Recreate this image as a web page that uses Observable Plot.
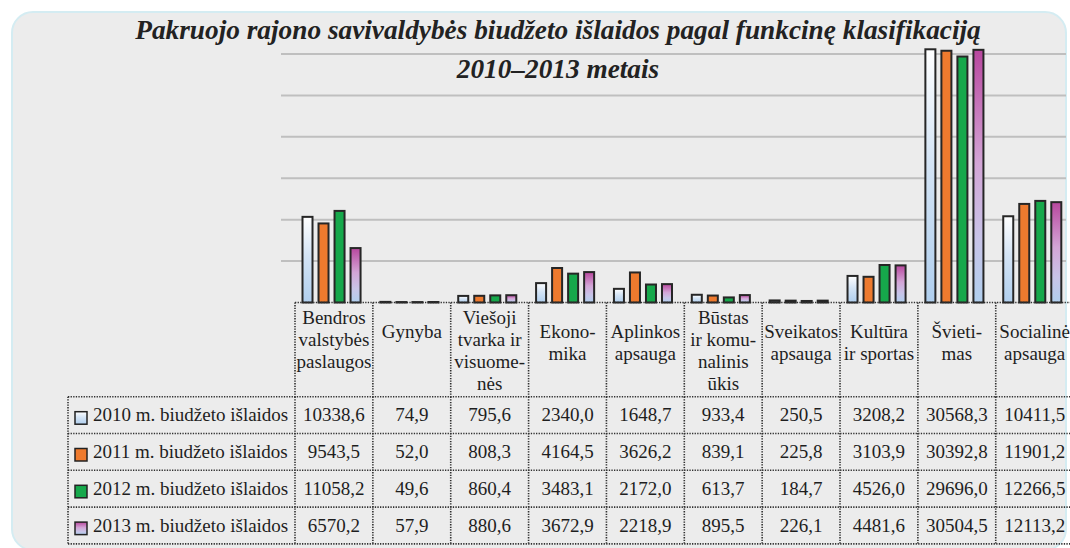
<!DOCTYPE html>
<html><head><meta charset="utf-8">
<script src="https://cdn.jsdelivr.net/npm/d3@7"></script>
<script src="https://cdn.jsdelivr.net/npm/@observablehq/plot@0.6"></script>
<style>
html,body{margin:0;padding:0;background:#fff;width:1070px;height:548px;overflow:hidden;}
#panel{position:absolute;left:11px;top:11px;width:1052px;height:536px;border:2px solid #d4ecf2;border-radius:22px;background:#ececec;}
#chart{position:absolute;left:0;top:0;width:1070px;height:548px;}
#title{position:absolute;left:58px;top:10.5px;width:1000px;text-align:center;font-family:"Liberation Serif","Times New Roman",serif;font-style:italic;font-weight:bold;font-size:27.3px;line-height:39px;color:#222;z-index:2;white-space:nowrap;}
#chart svg text{font-family:"Liberation Serif","Times New Roman",serif;}
</style></head><body>
<div id="panel"></div>
<div id="chart"></div>
<div id="title">Pakruojo rajono savivaldybės biudžeto išlaidos pagal funkcinę klasifikaciją<br>2010–2013 metais</div>
<script>
const categories = ["Bendros valstybės paslaugos", "Gynyba", "Viešoji tvarka ir visuomenės", "Ekonomika", "Aplinkos apsauga", "Būstas ir komunalinis ūkis", "Sveikatos apsauga", "Kultūra ir sportas", "Švietimas", "Socialinė apsauga"];
const headerLines = [
  ["Bendros", "valstybės", "paslaugos"],
  ["Gynyba"],
  ["Viešoji", "tvarka ir", "visuome-", "nės"],
  ["Ekono-", "mika"],
  ["Aplinkos", "apsauga"],
  ["Būstas", "ir komu-", "nalinis", "ūkis"],
  ["Sveikatos", "apsauga"],
  ["Kultūra", "ir sportas"],
  ["Švieti-", "mas"],
  ["Socialinė", "apsauga"]
];
const years = ["2010", "2011", "2012", "2013"];
const seriesLabels = ["2010 m. biudžeto išlaidos", "2011 m. biudžeto išlaidos", "2012 m. biudžeto išlaidos", "2013 m. biudžeto išlaidos"];
const values2010 = [10338.6, 74.9, 795.6, 2340.0, 1648.7, 933.4, 250.5, 3208.2, 30568.3, 10411.5];
const values2011 = [9543.5, 52.0, 808.3, 4164.5, 3626.2, 839.1, 225.8, 3103.9, 30392.8, 11901.2];
const values2012 = [11058.2, 49.6, 860.4, 3483.1, 2172.0, 613.7, 184.7, 4526.0, 29696.0, 12266.5];
const values2013 = [6570.2, 57.9, 880.6, 3672.9, 2218.9, 895.5, 226.1, 4481.6, 30504.5, 12113.2];
const gridTicks = [5000, 10000, 15000, 20000, 25000, 30000];

const series = [values2010, values2011, values2012, values2013];
const fillFor = {"2010": "url(#g2010)", "2011": "#ee7a2e", "2012": "#16a84b", "2013": "url(#g2013)"};
const data = years.flatMap((yr, i) => categories.map((c, j) => ({category: c, year: yr, value: series[i][j]})));

const plot = Plot.plot({
  width: 1070, height: 548,
  marginLeft: 281, marginRight: 4, marginTop: 54, marginBottom: 245.5,
  style: {background: "transparent", overflow: "visible", fontFamily: "'Liberation Serif', 'Times New Roman', serif"},
  fx: {domain: categories, range: [295, 1073.6], padding: 0, round: false, axis: null},
  x: {domain: years, insetLeft: 7.5, insetRight: 12.3, paddingInner: 0.375, paddingOuter: 0, round: false, axis: null},
  y: {domain: [0, 30000], axis: null},
  color: {type: "identity"},
  marks: [
    Plot.barY(data, {fx: "category", x: "year", y: "value", fill: d => fillFor[d.year], stroke: "#262626", strokeWidth: 2})
  ]
});
document.getElementById("chart").appendChild(plot);

const svg = d3.select(plot);
const defs = svg.insert("defs", ":first-child");
function grad(id, stops) {
  const lg = defs.append("linearGradient").attr("id", id).attr("x1", 0).attr("y1", 0).attr("x2", 0).attr("y2", 1);
  stops.forEach(([o, c]) => lg.append("stop").attr("offset", o).attr("stop-color", c));
}
grad("g2010", [[0, "#ffffff"], [0.45, "#d4e4f5"], [1, "#b0cfee"]]);
grad("g2013", [[0, "#b8479e"], [0.45, "#d3a5d6"], [0.75, "#c8c4e8"], [1, "#b0cfee"]]);

// horizontal gridlines from Plot's y scale, drawn beneath the bars
const yS = plot.scale("y");
const gridG = svg.insert("g", "defs + *").attr("stroke", "#bfbfbf").attr("stroke-width", 2);
gridTicks.forEach(t => {
  const yy = yS.apply(t);
  gridG.append("line").attr("x1", 281).attr("x2", 1066).attr("y1", yy).attr("y2", yy);
});

// data table below the chart, aligned on the fx scale
const fxS = plot.scale("fx");
const bw = fxS.bandwidth;
const colX = categories.map(c => fxS.apply(c));
const tableRight = colX[colX.length - 1] + bw;
const headTop = yS.apply(0), headBottom = 396.7, rowH = 36.8, tableLeft = 68;
const g = svg.append("g")
  .style("font-family", "'Liberation Serif', 'Times New Roman', serif")
  .style("font-size", "19px").attr("fill", "#1e1e1e");
const dotted = sel => sel.attr("stroke", "#303030").attr("stroke-width", 1.6).attr("stroke-dasharray", "1.3 1.3").attr("fill", "none");
function hline(x1, x2, y) { g.append("line").attr("x1", x1).attr("x2", x2).attr("y1", y).attr("y2", y).call(dotted); }
function vline(x, y1, y2) { g.append("line").attr("x1", x).attr("x2", x).attr("y1", y1).attr("y2", y2).call(dotted); }

hline(colX[0], tableRight, headTop);
const bounds = colX.concat([tableRight]);
bounds.forEach(x => vline(x, headTop, headBottom));
for (let r = 0; r <= years.length; r++) hline(tableLeft, tableRight, headBottom + r * rowH);
const tableBottom = headBottom + years.length * rowH;
vline(tableLeft, headBottom, tableBottom);
bounds.forEach(x => vline(x, headBottom, tableBottom));

// header labels
headerLines.forEach((lines, j) => {
  const cx = colX[j] + bw / 2;
  const first = lines.length >= 3 ? 324 : 338;
  const t = g.append("text").attr("text-anchor", "middle");
  lines.forEach((ln, k) => t.append("tspan").attr("x", cx).attr("y", first + k * 22).text(ln));
});

// legend rows and values
const fmt = v => d3.format(".1f")(v).replace(".", ",");
years.forEach((yr, i) => {
  const top = headBottom + i * rowH;
  g.append("rect").attr("x", 75).attr("y", top + 15).attr("width", 12).attr("height", 12.5)
    .attr("fill", fillFor[yr]).attr("stroke", "#222").attr("stroke-width", 1.5);
  g.append("text").attr("text-anchor", "start").attr("x", 93).attr("y", top + 24.5).text(seriesLabels[i]);
  series[i].forEach((v, j) => {
    g.append("text").attr("text-anchor", "middle").attr("x", colX[j] + bw / 2).attr("y", top + 24.5).text(fmt(v));
  });
});
</script>
</body></html>
